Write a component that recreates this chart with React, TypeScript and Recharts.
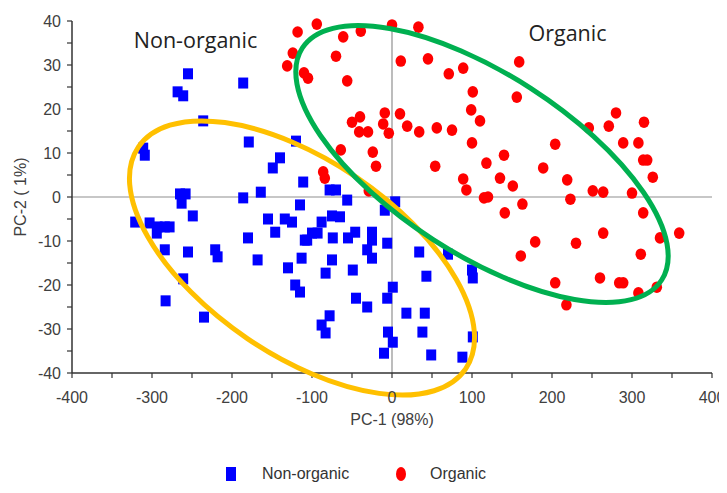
import React from 'react';
import { ScatterChart, Scatter, XAxis, YAxis, ReferenceLine, ReferenceDot } from 'recharts';

// ---- data ----
const seriesNames = ['Non-organic', 'Organic'];

const nonOrganicPC1 = [
  -255, -186, -268, -261, -236, -311, -309, -179, -120, -140, -149, -111,
  -265, -258, -263, -186, -164, -115, -321, -303, -293, -284, -278, -294,
  -249, -284, -255, -221, -218, -180, -155, -146, -134, -125, -109, -168,
  -113, -130, -121, -115, -261, -283, -235, -78, -70, -56, -88, -75, -65,
  -100, -93, -106, -74, -55, -46, -25, -25, -31, -25, -6, -9, 4, -75, -83,
  -49, -45, -31, -6, 1, -78, -88, -83, -5, 1, -10, 18, 41, 38, 49, 88, 34,
  43, 70, 100, 101, 101,
];
const nonOrganicPC2 = [
  28, 25.9, 23.9, 23, 17.3, 11.1, 9.5, 12.5, 12.7, 8.9, 6.6, 3.4,
  0.7, 0.7, -1.4, -0.2, 1.1, -1.8, -5.7, -5.9, -6.8, -6.8, -6.8, -8.2,
  -4.3, -12, -12.5, -12, -13.6, -9.3, -5, -8, -5, -5.7, -9.8, -14.3,
  -13.9, -16.1, -20, -21.6, -18.6, -23.6, -27.3, 1.6, 1.6, -0.7, -5.7, -4.3, -4.5,
  -8.2, -8.2, -9.8, -9.3, -9.3, -8, -8, -9.8, -12, -13.9, -10.5, -3, -1.1, -14.3, -17.3,
  -16.6, -23, -25, -23, -20.5, -27, -29.1, -30.9, -30.7, -33, -35.5, -26.4, -26.4, -30.7, -35.9, -36.4, -12.5,
  -18, -13, -16.6, -18.4, -31.8,
];

const organicPC1 = [
  -118, -94, -61, -39, 0, 33, -124, -131, -70, -110, -105, -56, 11, 45,
  71, 89, 159, 101, 156, 99, 110, 100, 118, -50, -40, -41, -30, -9, -11,
  -4, 10, 19, 34, 56, 75, -24, -20, -64, 54, -86, -84, 89, 93, -29, 115,
  120, 140, 135, 151, 204, 189, 219, 280, 271, 246, 315, 289, 308, 314,
  319, 326, 251, 264, 300, 163, 223, 141, 314, 179, 161, 230, 264, 335,
  359, 311, 204, 260, 284, 289, 308, 331, 218,
];
const organicPC2 = [
  37.5, 39.3, 36.4, 37.7, 39.1, 38.6, 32.7, 29.8, 32, 28.2, 27, 26.4, 30.9, 31.4,
  28, 29.3, 30.7, 23.9, 22.7, 19.8, 17.3, 12.3, 7.7, 17, 18.2, 14.8, 14.8, 19.1, 16.6,
  14.5, 18.9, 16.1, 14.8, 15.7, 15.2, 10.2, 7, 10.7, 7, 5.7, 4.3, 4.1, 1.6, 1.4, -0.2,
  0, 9.5, 4.3, 2.5, 12, 6.6, 3.9, 19.1, 16.1, 15.7, 17, 12.3, 12.3, 8.4,
  8.4, 4.5, 1.4, 1.1, 0.9, -1.6, -0.5, -3.6, -3.6, -10.2, -13.4, -10.5, -8.2, -9.3,
  -8.2, -13, -19.5, -18.4, -19.5, -19.5, -21.8, -20.5, -24.5,
];

const xTicks = [-400, -350, -300, -250, -200, -150, -100, -50, 0, 50, 100, 150, 200, 250, 300, 350, 400];
const yTicks = [-40, -35, -30, -25, -20, -15, -10, -5, 0, 5, 10, 15, 20, 25, 30, 35, 40];
const xTitle = 'PC-1 (98%)';
const yTitle = 'PC-2 ( 1%)';

// group annotations (data coordinates)
const groupLabelText = ['Non-organic', 'Organic'];
const groupLabelX = [-245.6, 219.4];
const groupLabelY = [35.6, 37.3];

// hand-drawn group ellipses: centre, half major-axis vector, half minor-axis vector (data units)
const ellipseColors = ['#FFC000', '#00B050'];
const ellipseCX = [-112.5, 112.5];
const ellipseCY = [-13.86, 7.5];
const ellipseMajor = [[204.6, -25.2], [224.6, -26.36]];
const ellipseMinor = [[-68.4, -18.3], [-61.0, -17.2]];

// ---- layout ----
const CHART_W = 719;
const CHART_H = 430;
const MARGIN = { top: 13, right: 15, bottom: 0, left: 0 };
const Y_AXIS_W = 64;
const X_AXIS_H = 65;
const X_DOMAIN: [number, number] = [-400, 400];
const Y_DOMAIN: [number, number] = [-40, 40];
const PLOT_W = CHART_W - MARGIN.left - MARGIN.right - Y_AXIS_W;
const PLOT_H = CHART_H - MARGIN.top - MARGIN.bottom - X_AXIS_H;
const KX = PLOT_W / (X_DOMAIN[1] - X_DOMAIN[0]);
const KY = PLOT_H / (Y_DOMAIN[1] - Y_DOMAIN[0]);

const FONT = '"Liberation Sans", Arial, sans-serif';
const AXIS_TEXT = '#404040';
const BLUE = '#0000FF';
const RED = '#FF0000';

const nonOrganicData = nonOrganicPC1.map((x, i) => ({ x, y: nonOrganicPC2[i] }));
const organicData = organicPC1.map((x, i) => ({ x, y: organicPC2[i] }));

const SquareShape = (p: any) => (
  <rect x={p.cx - 5} y={p.cy - 5.5} width={10} height={11} fill={BLUE} />
);
const CircleShape = (p: any) => (
  <ellipse cx={p.cx} cy={p.cy} rx={5.3} ry={5.8} fill={RED} />
);

const XTick = (p: any) => {
  const v = p.payload.value;
  if (v % 100 !== 0) return null;
  return (
    <text x={p.x} y={p.y + 23} textAnchor="middle" fontSize={16} fontFamily={FONT} fill={AXIS_TEXT}>
      {v}
    </text>
  );
};
const YTick = (p: any) => {
  const v = p.payload.value;
  if (v % 10 !== 0) return null;
  return (
    <text x={p.x - 4} y={p.y + 5.5} textAnchor="end" fontSize={16} fontFamily={FONT} fill={AXIS_TEXT}>
      {v}
    </text>
  );
};

const makeEllipseShape = (i: number) => (p: any) => {
  const mx = ellipseMajor[i][0] * KX;
  const my = -ellipseMajor[i][1] * KY;
  const nx = ellipseMinor[i][0] * KX;
  const ny = -ellipseMinor[i][1] * KY;
  const a = Math.hypot(mx, my);
  const b = Math.hypot(nx, ny);
  const ang = (Math.atan2(my, mx) * 180) / Math.PI;
  return (
    <ellipse
      cx={p.cx}
      cy={p.cy}
      rx={a}
      ry={b}
      fill="none"
      stroke={ellipseColors[i]}
      strokeWidth={5}
      transform={`rotate(${ang} ${p.cx} ${p.cy})`}
    />
  );
};

const makeLabelShape = (i: number) => (p: any) => (
  <text
    x={p.cx}
    y={p.cy + 7.7}
    textAnchor="middle"
    fontSize={21.5}
    fontFamily='"Open Sans", sans-serif'
    fill="#222"
  >
    {groupLabelText[i]}
  </text>
);

export default function App() {
  return (
    <div style={{ position: 'relative', width: CHART_W, height: 485, background: '#fff' }}>
      <ScatterChart width={CHART_W} height={CHART_H} margin={MARGIN}>
        <XAxis
          type="number"
          dataKey="x"
          domain={X_DOMAIN}
          ticks={xTicks}
          interval={0}
          height={X_AXIS_H}
          tick={<XTick />}
          tickSize={5}
          axisLine={{ stroke: '#333', strokeWidth: 1.5 }}
          tickLine={{ stroke: '#333', strokeWidth: 1.2 }}
          label={{
            content: (lp: any) => {
              const vb = lp.viewBox;
              return (
                <text x={vb.x + vb.width / 2} y={vb.y + 52} textAnchor="middle" fontSize={16} fontFamily={FONT} fill={AXIS_TEXT}>
                  {xTitle}
                </text>
              );
            },
          }}
        />
        <YAxis
          type="number"
          dataKey="y"
          domain={Y_DOMAIN}
          ticks={yTicks}
          interval={0}
          width={Y_AXIS_W}
          tick={<YTick />}
          tickSize={5}
          axisLine={{ stroke: '#333', strokeWidth: 1.5 }}
          tickLine={{ stroke: '#333', strokeWidth: 1.2 }}
          label={{
            content: (lp: any) => {
              const vb = lp.viewBox;
              const cx = vb.x + 18;
              const cy = vb.y + vb.height / 2;
              return (
                <text x={cx} y={cy} textAnchor="middle" fontSize={16} fontFamily={FONT} fill={AXIS_TEXT} transform={`rotate(-90 ${cx} ${cy})`}>
                  {yTitle}
                </text>
              );
            },
          }}
        />
        <ReferenceLine x={0} stroke="#909090" strokeWidth={1.2} />
        <ReferenceLine y={0} stroke="#909090" strokeWidth={1.2} />
        <Scatter name={seriesNames[0]} data={nonOrganicData} shape={SquareShape} isAnimationActive={false} />
        <Scatter name={seriesNames[1]} data={organicData} shape={CircleShape} isAnimationActive={false} />
        {ellipseCX.map((cx, i) => (
          <ReferenceDot key={'e' + i} x={cx} y={ellipseCY[i]} ifOverflow="visible" shape={makeEllipseShape(i)} />
        ))}
        {groupLabelX.map((gx, i) => (
          <ReferenceDot key={'t' + i} x={gx} y={groupLabelY[i]} ifOverflow="visible" shape={makeLabelShape(i)} />
        ))}
      </ScatterChart>
      {/* legend */}
      <div style={{ position: 'absolute', left: 218, top: 459, width: 10, height: 14, background: BLUE }} />
      <div style={{ position: 'absolute', left: 254, top: 456, fontFamily: FONT, fontSize: 16, color: '#333', lineHeight: '20px' }}>
        {seriesNames[0]}
      </div>
      <div style={{ position: 'absolute', left: 388, top: 459, width: 10, height: 14, borderRadius: '50%', background: RED }} />
      <div style={{ position: 'absolute', left: 422, top: 456, fontFamily: FONT, fontSize: 16, color: '#333', lineHeight: '20px' }}>
        {seriesNames[1]}
      </div>
    </div>
  );
}
